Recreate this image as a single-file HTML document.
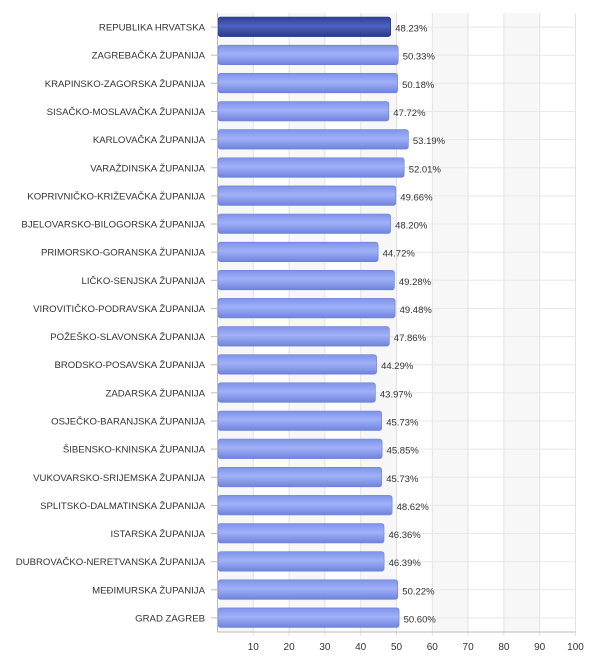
<!DOCTYPE html>
<html><head><meta charset="utf-8"><style>
body{margin:0;background:#fff;}
svg text{font-family:"Liberation Sans",Arial,sans-serif;fill:#333;}
.n{font-size:9.6px;text-anchor:end;}
.v{font-size:9.5px;}
.t{font-size:10px;text-anchor:middle;}
.b{fill:url(#g1);stroke:#6a7ed6;stroke-width:0.6;}
</style></head><body>
<svg width="600" height="651" xmlns="http://www.w3.org/2000/svg">
<defs>
<linearGradient id="g1" x1="0" y1="0" x2="0" y2="1">
<stop offset="0" stop-color="#7f93e8"/><stop offset="0.45" stop-color="#a0b1f8"/><stop offset="1" stop-color="#6f83dc"/></linearGradient>
<linearGradient id="g0" x1="0" y1="0" x2="0" y2="1">
<stop offset="0" stop-color="#2c3f98"/><stop offset="0.45" stop-color="#4d62c0"/><stop offset="1" stop-color="#2a3b8c"/></linearGradient>
</defs>
<g fill="#f7f7f7">
<rect x="217.5" y="13" width="35.8" height="619"/><rect x="289.1" y="13" width="35.8" height="619"/><rect x="360.7" y="13" width="35.8" height="619"/><rect x="432.3" y="13" width="35.8" height="619"/><rect x="503.9" y="13" width="35.8" height="619"/>
</g>
<g stroke="#e2e2e2">
<line x1="253.3" y1="13" x2="253.3" y2="636"/><line x1="289.1" y1="13" x2="289.1" y2="636"/><line x1="324.9" y1="13" x2="324.9" y2="636"/><line x1="360.7" y1="13" x2="360.7" y2="636"/><line x1="396.5" y1="13" x2="396.5" y2="636"/><line x1="432.3" y1="13" x2="432.3" y2="636"/><line x1="468.1" y1="13" x2="468.1" y2="636"/><line x1="503.9" y1="13" x2="503.9" y2="636"/><line x1="539.7" y1="13" x2="539.7" y2="636"/><line x1="575.5" y1="13" x2="575.5" y2="636"/>
</g>
<text class="t" x="253.3" y="650">10</text><text class="t" x="289.1" y="650">20</text><text class="t" x="324.9" y="650">30</text><text class="t" x="360.7" y="650">40</text><text class="t" x="396.5" y="650">50</text><text class="t" x="432.3" y="650">60</text><text class="t" x="468.1" y="650">70</text><text class="t" x="503.9" y="650">80</text><text class="t" x="539.7" y="650">90</text><text class="t" x="575.5" y="650">100</text>

<g transform="translate(0,27.07)"><line x1="217.5" y1="0" x2="575.5" y2="0" stroke="#e8e8e8"/><line x1="211" y1="0" x2="217" y2="0" stroke="#bbb"/><rect x="218" y="-10" width="172.7" height="19.5" rx="2.5" fill="url(#g0)" stroke="#23327a" stroke-width="0.6"/><text class="n" x="205" y="3.5">REPUBLIKA HRVATSKA</text><text class="v" x="395.2" y="4.5">48.23%</text></g>
<g transform="translate(0,55.2)"><line x1="217.5" y1="0" x2="575.5" y2="0" stroke="#e8e8e8"/><line x1="211" y1="0" x2="217" y2="0" stroke="#bbb"/><rect class="b" x="218" y="-10" width="180.2" height="19.5" rx="2.5"/><text class="n" x="205" y="3.5">ZAGREBAČKA ŽUPANIJA</text><text class="v" x="402.7" y="4.5">50.33%</text></g>
<g transform="translate(0,83.3)"><line x1="217.5" y1="0" x2="575.5" y2="0" stroke="#e8e8e8"/><line x1="211" y1="0" x2="217" y2="0" stroke="#bbb"/><rect class="b" x="218" y="-10" width="179.6" height="19.5" rx="2.5"/><text class="n" x="205" y="3.5">KRAPINSKO-ZAGORSKA ŽUPANIJA</text><text class="v" x="402.1" y="4.5">50.18%</text></g>
<g transform="translate(0,111.5)"><line x1="217.5" y1="0" x2="575.5" y2="0" stroke="#e8e8e8"/><line x1="211" y1="0" x2="217" y2="0" stroke="#bbb"/><rect class="b" x="218" y="-10" width="170.8" height="19.5" rx="2.5"/><text class="n" x="205" y="3.5">SISAČKO-MOSLAVAČKA ŽUPANIJA</text><text class="v" x="393.3" y="4.5">47.72%</text></g>
<g transform="translate(0,139.6)"><line x1="217.5" y1="0" x2="575.5" y2="0" stroke="#e8e8e8"/><line x1="211" y1="0" x2="217" y2="0" stroke="#bbb"/><rect class="b" x="218" y="-10" width="190.4" height="19.5" rx="2.5"/><text class="n" x="205" y="3.5">KARLOVAČKA ŽUPANIJA</text><text class="v" x="412.9" y="4.5">53.19%</text></g>
<g transform="translate(0,167.8)"><line x1="217.5" y1="0" x2="575.5" y2="0" stroke="#e8e8e8"/><line x1="211" y1="0" x2="217" y2="0" stroke="#bbb"/><rect class="b" x="218" y="-10" width="186.2" height="19.5" rx="2.5"/><text class="n" x="205" y="3.5">VARAŽDINSKA ŽUPANIJA</text><text class="v" x="408.7" y="4.5">52.01%</text></g>
<g transform="translate(0,195.9)"><line x1="217.5" y1="0" x2="575.5" y2="0" stroke="#e8e8e8"/><line x1="211" y1="0" x2="217" y2="0" stroke="#bbb"/><rect class="b" x="218" y="-10" width="177.8" height="19.5" rx="2.5"/><text class="n" x="205" y="3.5">KOPRIVNIČKO-KRIŽEVAČKA ŽUPANIJA</text><text class="v" x="400.3" y="4.5">49.66%</text></g>
<g transform="translate(0,224.0)"><line x1="217.5" y1="0" x2="575.5" y2="0" stroke="#e8e8e8"/><line x1="211" y1="0" x2="217" y2="0" stroke="#bbb"/><rect class="b" x="218" y="-10" width="172.6" height="19.5" rx="2.5"/><text class="n" x="205" y="3.5">BJELOVARSKO-BILOGORSKA ŽUPANIJA</text><text class="v" x="395.1" y="4.5">48.20%</text></g>
<g transform="translate(0,252.2)"><line x1="217.5" y1="0" x2="575.5" y2="0" stroke="#e8e8e8"/><line x1="211" y1="0" x2="217" y2="0" stroke="#bbb"/><rect class="b" x="218" y="-10" width="160.1" height="19.5" rx="2.5"/><text class="n" x="205" y="3.5">PRIMORSKO-GORANSKA ŽUPANIJA</text><text class="v" x="382.6" y="4.5">44.72%</text></g>
<g transform="translate(0,280.3)"><line x1="217.5" y1="0" x2="575.5" y2="0" stroke="#e8e8e8"/><line x1="211" y1="0" x2="217" y2="0" stroke="#bbb"/><rect class="b" x="218" y="-10" width="176.4" height="19.5" rx="2.5"/><text class="n" x="205" y="3.5">LIČKO-SENJSKA ŽUPANIJA</text><text class="v" x="398.9" y="4.5">49.28%</text></g>
<g transform="translate(0,308.4)"><line x1="217.5" y1="0" x2="575.5" y2="0" stroke="#e8e8e8"/><line x1="211" y1="0" x2="217" y2="0" stroke="#bbb"/><rect class="b" x="218" y="-10" width="177.1" height="19.5" rx="2.5"/><text class="n" x="205" y="3.5">VIROVITIČKO-PODRAVSKA ŽUPANIJA</text><text class="v" x="399.6" y="4.5">49.48%</text></g>
<g transform="translate(0,336.6)"><line x1="217.5" y1="0" x2="575.5" y2="0" stroke="#e8e8e8"/><line x1="211" y1="0" x2="217" y2="0" stroke="#bbb"/><rect class="b" x="218" y="-10" width="171.3" height="19.5" rx="2.5"/><text class="n" x="205" y="3.5">POŽEŠKO-SLAVONSKA ŽUPANIJA</text><text class="v" x="393.8" y="4.5">47.86%</text></g>
<g transform="translate(0,364.7)"><line x1="217.5" y1="0" x2="575.5" y2="0" stroke="#e8e8e8"/><line x1="211" y1="0" x2="217" y2="0" stroke="#bbb"/><rect class="b" x="218" y="-10" width="158.6" height="19.5" rx="2.5"/><text class="n" x="205" y="3.5">BRODSKO-POSAVSKA ŽUPANIJA</text><text class="v" x="381.1" y="4.5">44.29%</text></g>
<g transform="translate(0,392.8)"><line x1="217.5" y1="0" x2="575.5" y2="0" stroke="#e8e8e8"/><line x1="211" y1="0" x2="217" y2="0" stroke="#bbb"/><rect class="b" x="218" y="-10" width="157.4" height="19.5" rx="2.5"/><text class="n" x="205" y="3.5">ZADARSKA ŽUPANIJA</text><text class="v" x="379.9" y="4.5">43.97%</text></g>
<g transform="translate(0,421.0)"><line x1="217.5" y1="0" x2="575.5" y2="0" stroke="#e8e8e8"/><line x1="211" y1="0" x2="217" y2="0" stroke="#bbb"/><rect class="b" x="218" y="-10" width="163.7" height="19.5" rx="2.5"/><text class="n" x="205" y="3.5">OSJEČKO-BARANJSKA ŽUPANIJA</text><text class="v" x="386.2" y="4.5">45.73%</text></g>
<g transform="translate(0,449.1)"><line x1="217.5" y1="0" x2="575.5" y2="0" stroke="#e8e8e8"/><line x1="211" y1="0" x2="217" y2="0" stroke="#bbb"/><rect class="b" x="218" y="-10" width="164.1" height="19.5" rx="2.5"/><text class="n" x="205" y="3.5">ŠIBENSKO-KNINSKA ŽUPANIJA</text><text class="v" x="386.6" y="4.5">45.85%</text></g>
<g transform="translate(0,477.3)"><line x1="217.5" y1="0" x2="575.5" y2="0" stroke="#e8e8e8"/><line x1="211" y1="0" x2="217" y2="0" stroke="#bbb"/><rect class="b" x="218" y="-10" width="163.7" height="19.5" rx="2.5"/><text class="n" x="205" y="3.5">VUKOVARSKO-SRIJEMSKA ŽUPANIJA</text><text class="v" x="386.2" y="4.5">45.73%</text></g>
<g transform="translate(0,505.4)"><line x1="217.5" y1="0" x2="575.5" y2="0" stroke="#e8e8e8"/><line x1="211" y1="0" x2="217" y2="0" stroke="#bbb"/><rect class="b" x="218" y="-10" width="174.1" height="19.5" rx="2.5"/><text class="n" x="205" y="3.5">SPLITSKO-DALMATINSKA ŽUPANIJA</text><text class="v" x="396.6" y="4.5">48.62%</text></g>
<g transform="translate(0,533.5)"><line x1="217.5" y1="0" x2="575.5" y2="0" stroke="#e8e8e8"/><line x1="211" y1="0" x2="217" y2="0" stroke="#bbb"/><rect class="b" x="218" y="-10" width="166.0" height="19.5" rx="2.5"/><text class="n" x="205" y="3.5">ISTARSKA ŽUPANIJA</text><text class="v" x="388.5" y="4.5">46.36%</text></g>
<g transform="translate(0,561.7)"><line x1="217.5" y1="0" x2="575.5" y2="0" stroke="#e8e8e8"/><line x1="211" y1="0" x2="217" y2="0" stroke="#bbb"/><rect class="b" x="218" y="-10" width="166.1" height="19.5" rx="2.5"/><text class="n" x="205" y="3.5">DUBROVAČKO-NERETVANSKA ŽUPANIJA</text><text class="v" x="388.6" y="4.5">46.39%</text></g>
<g transform="translate(0,589.8)"><line x1="217.5" y1="0" x2="575.5" y2="0" stroke="#e8e8e8"/><line x1="211" y1="0" x2="217" y2="0" stroke="#bbb"/><rect class="b" x="218" y="-10" width="179.8" height="19.5" rx="2.5"/><text class="n" x="205" y="3.5">MEĐIMURSKA ŽUPANIJA</text><text class="v" x="402.3" y="4.5">50.22%</text></g>
<g transform="translate(0,617.9)"><line x1="217.5" y1="0" x2="575.5" y2="0" stroke="#e8e8e8"/><line x1="211" y1="0" x2="217" y2="0" stroke="#bbb"/><rect class="b" x="218" y="-10" width="181.1" height="19.5" rx="2.5"/><text class="n" x="205" y="3.5">GRAD ZAGREB</text><text class="v" x="403.6" y="4.5">50.60%</text></g>

<line x1="217.5" y1="13" x2="217.5" y2="632" stroke="#bbb"/>
<line x1="217.5" y1="632" x2="575.5" y2="632" stroke="#bbb"/>
</svg>
</body></html>
